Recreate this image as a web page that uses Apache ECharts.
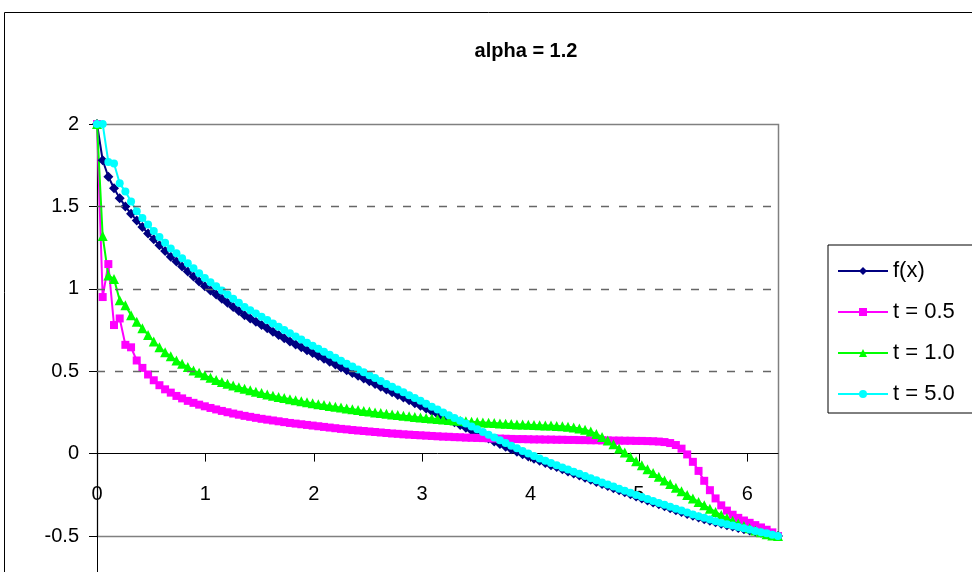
<!DOCTYPE html>
<html>
<head>
<meta charset="utf-8">
<script src="https://cdn.jsdelivr.net/npm/echarts@6/dist/echarts.min.js"></script>
<style>
  html, body { margin: 0; padding: 0; background: #fff; }
  #chart { width: 972px; height: 572px; }
</style>
</head>
<body>
<div id="chart"></div>
<script>
// Sample positions on [0, 2*pi]
const X = [
  0.0000, 0.0524, 0.1047, 0.1571, 0.2094, 0.2618, 0.3142, 0.3665, 0.4189, 0.4712,
  0.5236, 0.5760, 0.6283, 0.6807, 0.7330, 0.7854, 0.8378, 0.8901, 0.9425, 0.9948,
  1.0472, 1.0996, 1.1519, 1.2043, 1.2566, 1.3090, 1.3614, 1.4137, 1.4661, 1.5184,
  1.5708, 1.6232, 1.6755, 1.7279, 1.7802, 1.8326, 1.8850, 1.9373, 1.9897, 2.0420,
  2.0944, 2.1468, 2.1991, 2.2515, 2.3038, 2.3562, 2.4086, 2.4609, 2.5133, 2.5656,
  2.6180, 2.6704, 2.7227, 2.7751, 2.8274, 2.8798, 2.9322, 2.9845, 3.0369, 3.0892,
  3.1416, 3.1940, 3.2463, 3.2987, 3.3510, 3.4034, 3.4558, 3.5081, 3.5605, 3.6128,
  3.6652, 3.7176, 3.7699, 3.8223, 3.8746, 3.9270, 3.9794, 4.0317, 4.0841, 4.1364,
  4.1888, 4.2412, 4.2935, 4.3459, 4.3982, 4.4506, 4.5029, 4.5553, 4.6077, 4.6600,
  4.7124, 4.7648, 4.8171, 4.8695, 4.9218, 4.9742, 5.0265, 5.0789, 5.1313, 5.1836,
  5.2360, 5.2883, 5.3407, 5.3931, 5.4454, 5.4978, 5.5501, 5.6025, 5.6549, 5.7072,
  5.7596, 5.8119, 5.8643, 5.9166, 5.9690, 6.0214, 6.0737, 6.1261, 6.1785, 6.2308,
  6.2832
];

// f(x)
const F = [
  2.0, 1.78, 1.68, 1.61, 1.55, 1.50, 1.455, 1.415, 1.375, 1.335,
  1.30, 1.265, 1.23, 1.195, 1.165, 1.135, 1.105, 1.075, 1.045, 1.015,
  0.99, 0.965, 0.94, 0.915, 0.89, 0.865, 0.84, 0.82, 0.80, 0.78,
  0.76, 0.74, 0.72, 0.70, 0.68, 0.662, 0.645, 0.627, 0.610, 0.592,
  0.575, 0.557, 0.540, 0.523, 0.506, 0.489, 0.472, 0.456, 0.439, 0.423,
  0.406, 0.389, 0.373, 0.356, 0.340, 0.323, 0.306, 0.290, 0.273, 0.257,
  0.240, 0.223, 0.207, 0.190, 0.174, 0.157, 0.140, 0.124, 0.107, 0.091,
  0.074, 0.058, 0.042, 0.026, 0.011, -0.004, -0.018, -0.031, -0.044, -0.057,
  -0.070, -0.082, -0.095, -0.108, -0.121, -0.133, -0.146, -0.159, -0.172, -0.184,
  -0.197, -0.210, -0.222, -0.235, -0.247, -0.260, -0.272, -0.284, -0.296, -0.308,
  -0.320, -0.332, -0.344, -0.355, -0.366, -0.377, -0.388, -0.398, -0.408, -0.417,
  -0.426, -0.435, -0.443, -0.451, -0.459, -0.466, -0.473, -0.480, -0.487, -0.494,
  -0.500
];

// t = 0.5
const T05 = [
  2.0, 0.95, 1.15, 0.78, 0.82, 0.66, 0.645, 0.565, 0.52, 0.48,
  0.445, 0.415, 0.39, 0.37, 0.35, 0.335, 0.32, 0.308, 0.297, 0.287,
  0.277, 0.268, 0.259, 0.251, 0.243, 0.236, 0.229, 0.223, 0.217, 0.211,
  0.206, 0.201, 0.196, 0.191, 0.186, 0.182, 0.178, 0.174, 0.170, 0.166,
  0.162, 0.158, 0.154, 0.150, 0.147, 0.143, 0.140, 0.137, 0.134, 0.131,
  0.128, 0.125, 0.122, 0.120, 0.117, 0.115, 0.113, 0.111, 0.109, 0.107,
  0.105, 0.103, 0.102, 0.100, 0.099, 0.097, 0.096, 0.095, 0.094, 0.093,
  0.092, 0.091, 0.090, 0.089, 0.088, 0.088, 0.087, 0.086, 0.086, 0.085,
  0.085, 0.084, 0.084, 0.083, 0.083, 0.082, 0.082, 0.081, 0.081, 0.080,
  0.080, 0.079, 0.079, 0.078, 0.078, 0.077, 0.077, 0.076, 0.075, 0.073,
  0.070, 0.064, 0.052, 0.030, -0.005, -0.050, -0.105, -0.165, -0.222, -0.272,
  -0.314, -0.346, -0.371, -0.390, -0.406, -0.420, -0.434, -0.448, -0.462, -0.478,
  -0.500
];

// t = 1.0
const T10 = [
  2.0, 1.32, 1.08, 1.06, 0.93, 0.90, 0.84, 0.80, 0.76, 0.72,
  0.68, 0.645, 0.615, 0.59, 0.565, 0.545, 0.525, 0.505, 0.49, 0.475,
  0.46, 0.447, 0.435, 0.424, 0.413, 0.403, 0.393, 0.384, 0.375, 0.367,
  0.359, 0.351, 0.344, 0.337, 0.330, 0.324, 0.318, 0.312, 0.306, 0.300,
  0.295, 0.289, 0.284, 0.279, 0.274, 0.269, 0.264, 0.259, 0.255, 0.250,
  0.246, 0.242, 0.238, 0.234, 0.230, 0.226, 0.222, 0.219, 0.216, 0.213,
  0.210, 0.207, 0.204, 0.201, 0.199, 0.196, 0.194, 0.191, 0.189, 0.187,
  0.185, 0.183, 0.181, 0.179, 0.177, 0.176, 0.175, 0.173, 0.172, 0.171,
  0.170, 0.168, 0.166, 0.163, 0.159, 0.153, 0.145, 0.134, 0.119, 0.100,
  0.079, 0.056, 0.031, 0.006, -0.020, -0.046, -0.071, -0.095, -0.118, -0.141,
  -0.163, -0.185, -0.207, -0.229, -0.251, -0.272, -0.293, -0.314, -0.334, -0.354,
  -0.373, -0.391, -0.408, -0.424, -0.439, -0.453, -0.466, -0.478, -0.489, -0.497,
  -0.500
];

// t = 5.0
const T50 = [
  2.0, 2.0, 1.77, 1.76, 1.64, 1.59, 1.53, 1.47, 1.43, 1.39,
  1.35, 1.315, 1.28, 1.245, 1.215, 1.185, 1.155, 1.125, 1.095, 1.065,
  1.04, 1.015, 0.99, 0.965, 0.94, 0.915, 0.89, 0.87, 0.85, 0.83,
  0.81, 0.79, 0.77, 0.75, 0.73, 0.711, 0.692, 0.673, 0.655, 0.636,
  0.618, 0.600, 0.581, 0.563, 0.545, 0.528, 0.510, 0.493, 0.476, 0.458,
  0.441, 0.423, 0.406, 0.389, 0.372, 0.354, 0.337, 0.320, 0.302, 0.285,
  0.268, 0.250, 0.233, 0.216, 0.199, 0.182, 0.165, 0.148, 0.131, 0.114,
  0.097, 0.081, 0.064, 0.048, 0.032, 0.016, 0.000, -0.015, -0.029, -0.043,
  -0.057, -0.070, -0.084, -0.097, -0.110, -0.123, -0.136, -0.149, -0.162, -0.175,
  -0.188, -0.200, -0.213, -0.226, -0.238, -0.251, -0.263, -0.275, -0.287, -0.299,
  -0.311, -0.323, -0.335, -0.346, -0.358, -0.369, -0.380, -0.390, -0.400, -0.410,
  -0.419, -0.428, -0.437, -0.445, -0.453, -0.461, -0.469, -0.477, -0.484, -0.492,
  -0.500
];

const X_TICKS = [0, 1, 2, 3, 4, 5, 6];
const Y_MIN = -0.5, Y_MAX = 2, Y_STEP = 0.5;
const Y_GRIDLINES = [0.5, 1, 1.5];
const TITLE = 'alpha = 1.2';

const FONT = "'Liberation Sans', Arial, sans-serif";

const pairs = (ys) => ys.map((y, i) => [X[i], y]);

const seriesDefs = [
  { name: 'f(x)',    data: F,   color: '#000080', symbol: 'diamond',  size: 10 },
  { name: 't = 0.5', data: T05, color: '#FF00FF', symbol: 'rect',     size: 8 },
  { name: 't = 1.0', data: T10, color: '#00FF00', symbol: 'triangle', size: 10 },
  { name: 't = 5.0', data: T50, color: '#00FFFF', symbol: 'circle',   size: 8 }
];

const PLOT = { left: 97, top: 124, width: 681, height: 412 };
// x axis sits on y = 0, which lies this far above the bottom of the plot
const X_AXIS_LIFT = PLOT.height * (0 - Y_MIN) / (Y_MAX - Y_MIN);

const chart = echarts.init(document.getElementById('chart'), null, { renderer: 'canvas' });

const dataSeries = seriesDefs.map(s => ({
  name: s.name, type: 'line',
  data: pairs(s.data),
  symbol: s.symbol, symbolSize: s.size, showAllSymbol: true,
  clip: false, z: 3,
  lineStyle: { color: s.color, width: 2 },
  itemStyle: { color: s.color, borderWidth: 0 },
  emphasis: { disabled: true }
}));

// dashed horizontal gridlines inside the plot (the frame covers the outer ones)
const gridSeries = {
  name: 'gridlines', type: 'line', data: [], z: 1, silent: true,
  markLine: {
    silent: true, symbol: 'none', animation: false,
    label: { show: false },
    lineStyle: { color: '#666', width: 1.4, type: [8, 10] },
    data: Y_GRIDLINES.map(v => ({ yAxis: v }))
  }
};

chart.setOption({
  animation: false,
  backgroundColor: '#ffffff',
  textStyle: { fontFamily: FONT },
  grid: {
    left: PLOT.left, top: PLOT.top, width: PLOT.width, height: PLOT.height,
    show: false, containLabel: false, outerBoundsMode: 'none'
  },
  graphic: [
    { // chart frame
      type: 'rect', z: 0, silent: true,
      shape: { x: 4.5, y: 12.5, width: 1200, height: 800 },
      style: { fill: null, stroke: '#000', lineWidth: 1 }
    },
    { // plot area frame
      type: 'rect', z: 1, silent: true,
      shape: { x: PLOT.left + 0.5, y: PLOT.top + 0.5, width: PLOT.width, height: PLOT.height },
      style: { fill: null, stroke: '#808080', lineWidth: 1.5 }
    },
    { // value axis line runs on to the lower edge
      type: 'line', z: 2, silent: true,
      shape: { x1: PLOT.left + 0.5, y1: PLOT.top, x2: PLOT.left + 0.5, y2: 600 },
      style: { stroke: '#000', lineWidth: 1 }
    },
    {
      type: 'text', z: 5, x: 526, y: 51,
      style: { text: TITLE, align: 'center', verticalAlign: 'middle',
               font: "bold 20px " + FONT, fill: '#000' }
    }
  ],
  legend: {
    orient: 'vertical', left: 828, top: 245,
    itemWidth: 50, itemHeight: 10, itemGap: 19,
    padding: [15, 40, 8, 9],
    borderColor: '#000', borderWidth: 1,
    backgroundColor: '#fff',
    textStyle: { fontSize: 22, color: '#000', fontFamily: FONT },
    data: seriesDefs.map(s => s.name)
  },
  xAxis: {
    type: 'value', min: 0, max: 2 * Math.PI, z: 2,
    position: 'bottom', offset: -X_AXIS_LIFT,
    axisLine: { onZero: false, lineStyle: { color: '#000', width: 1 } },
    axisTick: { show: true, length: 8, customValues: X_TICKS, lineStyle: { color: '#000' } },
    axisLabel: { customValues: X_TICKS, fontSize: 20, color: '#000', margin: 31, fontFamily: FONT },
    splitLine: { show: false }
  },
  yAxis: {
    type: 'value', min: Y_MIN, max: Y_MAX, interval: Y_STEP, z: 2,
    axisLine: { show: true, onZero: false, lineStyle: { color: '#000', width: 1 } },
    axisTick: { show: true, length: 8, lineStyle: { color: '#000' } },
    axisLabel: { fontSize: 20, color: '#000', margin: 18, fontFamily: FONT },
    splitLine: { show: false }
  },
  series: [gridSeries].concat(dataSeries)
});
</script>
</body>
</html>
